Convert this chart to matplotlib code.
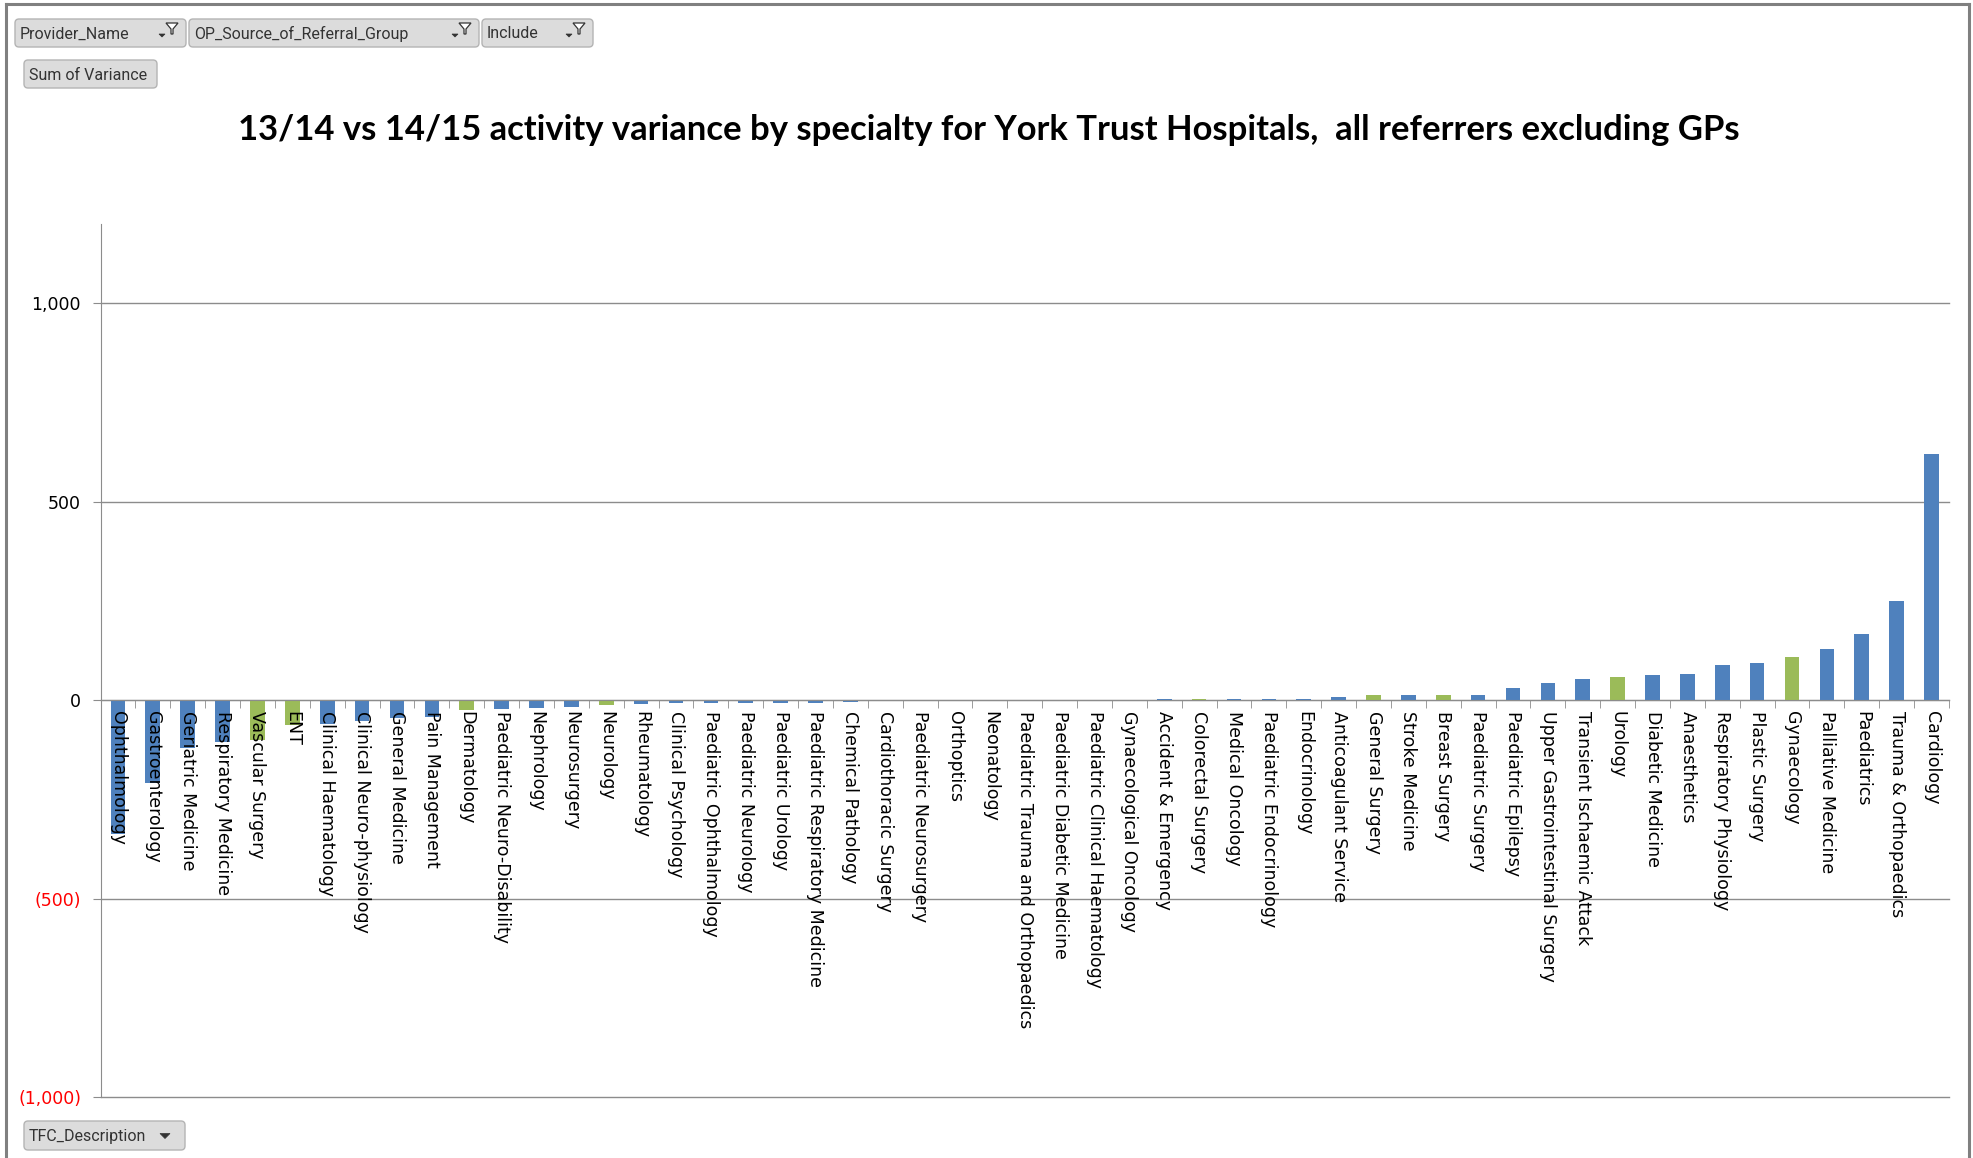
import matplotlib
matplotlib.use("Agg")
import matplotlib.pyplot as plt
from matplotlib.patches import FancyBboxPatch, Polygon
from matplotlib.ticker import FuncFormatter, FixedLocator

# ---------------- data ----------------
categories = [
    "Ophthalmology", "Gastroenterology", "Geriatric Medicine", "Respiratory Medicine",
    "Vascular Surgery", "ENT", "Clinical Haematology", "Clinical Neuro-physiology",
    "General Medicine", "Pain Management", "Dermatology", "Paediatric Neuro-Disability",
    "Nephrology", "Neurosurgery", "Neurology", "Rheumatology", "Clinical Psychology",
    "Paediatric Ophthalmology", "Paediatric Neurology", "Paediatric Urology",
    "Paediatric Respiratory Medicine", "Chemical Pathology", "Cardiothoracic Surgery",
    "Paediatric Neurosurgery", "Orthoptics", "Neonatology",
    "Paediatric Trauma and Orthopaedics", "Paediatric Diabetic Medicine",
    "Paediatric Clinical Haematology", "Gynaecological Oncology", "Accident & Emergency",
    "Colorectal Surgery", "Medical Oncology", "Paediatric Endocrinology", "Endocrinology",
    "Anticoagulant Service", "General Surgery", "Stroke Medicine", "Breast Surgery",
    "Paediatric Surgery", "Paediatric Epilepsy", "Upper Gastrointestinal Surgery",
    "Transient Ischaemic Attack", "Urology", "Diabetic Medicine", "Anaesthetics",
    "Respiratory Physiology", "Plastic Surgery", "Gynaecology", "Palliative Medicine",
    "Paediatrics", "Trauma & Orthopaedics", "Cardiology",
]
variance = [
    -338, -209, -120, -105, -101, -62, -60, -52, -44, -43,
    -24, -22, -19, -17, -12, -9, -8, -8, -8, -8,
    -6, -5, -1, 0, 0, 0, 0, 0, 0, 0,
    3, 3, 3, 3, 3, 9, 12, 12, 14, 14,
    31, 44, 54, 59, 64, 67, 88, 93, 110, 130,
    167, 251, 620,
]
green_group = ["Vascular Surgery", "ENT", "Dermatology", "Neurology", "Colorectal Surgery",
               "General Surgery", "Breast Surgery", "Urology", "Gynaecology"]
y_ticks = [-1000, -500, 0, 500, 1000]
title_text = "13/14 vs 14/15 activity variance by specialty for York Trust Hospitals,  all referrers excluding GPs"
filter_buttons = ["Provider_Name", "OP_Source_of_Referral_Group", "Include"]
value_button = "Sum of Variance"
axis_button = "TFC_Description"

# ---------------- figure ----------------
W, H = 1973, 1158
fig = plt.figure(figsize=(W / 100, H / 100), dpi=100)
fig.patch.set_facecolor("white")

BLUE = "#4F81BD"
GREEN = "#9BBB59"
GRID = "#8C8C8C"

ax = fig.add_axes([100.5 / W, 1 - 1097 / H, (1949 - 100.5) / W, (1097 - 224) / H])
x = list(range(len(categories)))
colors = [GREEN if c in green_group else BLUE for c in categories]
ax.bar(x, variance, width=0.42, color=colors, zorder=1)

ax.set_xlim(-0.5, len(categories) - 0.5)
ax.set_ylim(-1000, 1200)

for s in ["top", "right"]:
    ax.spines[s].set_visible(False)
ax.spines["bottom"].set_position(("data", 0))
ax.spines["bottom"].set_color(GRID)
ax.spines["left"].set_color(GRID)
ax.spines["bottom"].set_zorder(3)

ax.yaxis.set_major_locator(FixedLocator(y_ticks))
ax.yaxis.grid(True, color=GRID, linewidth=1.0)
for gl in ax.get_ygridlines():
    gl.set_clip_on(False)
ax.set_axisbelow(True)
ax.xaxis.set_zorder(4)

def fmt(v, pos):
    v = int(round(v))
    if v < 0:
        return "({:,})".format(-v)
    return "{:,}".format(v)

ax.yaxis.set_major_formatter(FuncFormatter(fmt))
ax.tick_params(axis="y", direction="out", length=6, color=GRID, labelsize=12.5, pad=8)
for lab, v in zip(ax.get_yticklabels(), y_ticks):
    lab.set_color("#FF0000" if v < 0 else "black")

ax.set_xticks(x)
ax.set_xticklabels(categories, rotation=270, fontsize=12.5, va="top", ha="center")
ax.tick_params(axis="x", which="major", length=0, pad=8)
ax.set_xticks([i - 0.5 for i in range(len(categories) + 1)], minor=True)
ax.tick_params(axis="x", which="minor", direction="out", length=6, color=GRID)

# ---------------- overlay (title, buttons, frame) ----------------
ov = fig.add_axes([0, 0, 1, 1], zorder=-1)
ov.set_xlim(0, W)
ov.set_ylim(H, 0)
ov.axis("off")

# frame
ov.plot([6, 6], [4, H], color="#808080", lw=2.2)
ov.plot([6, 1969], [4, 4], color="#808080", lw=2.2)
ov.plot([1969, 1969], [4, H], color="#808080", lw=2.2)

# title
t = fig.text(989 / W, 1 - 130 / H, title_text, fontsize=26, fontweight="bold",
             family="Lato", ha="center", va="center", color="black")
fig.canvas.draw()
bb = t.get_window_extent()
t.set_fontsize(26 * 1505 / bb.width)


def button(x0, y0, x1, y1, label, funnel=False, arrow=False):
    p = FancyBboxPatch((x0, y0), x1 - x0, y1 - y0,
                       boxstyle="round,pad=0,rounding_size=4",
                       fc="#DCDCDC", ec="#B4B4B4", lw=1.0)
    ov.add_patch(p)
    ov.text(x0 + 5, (y0 + y1) / 2 + 1, label, fontsize=11.5, family="Roboto",
            color="#333333", ha="left", va="center")
    if funnel:
        fx = x1 - 14
        fy = y0 + 4
        ov.add_patch(Polygon([[fx - 6, fy], [fx + 6, fy], [fx + 1, fy + 6],
                              [fx + 1, fy + 11], [fx - 1, fy + 11], [fx - 1, fy + 6]],
                             closed=True, fc="white", ec="#333333", lw=0.9))
        ax_ = x1 - 24
        ay = y0 + 15
        ov.add_patch(Polygon([[ax_ - 3, ay], [ax_ + 3, ay], [ax_, ay + 3]],
                             closed=True, fc="#333333", ec="#333333", lw=0.5))
    if arrow:
        ax_ = x1 - 20
        ay = (y0 + y1) / 2 - 2
        ov.add_patch(Polygon([[ax_ - 5, ay], [ax_ + 5, ay], [ax_, ay + 5]],
                             closed=True, fc="#333333", ec="#333333", lw=0.5))


button(15, 19, 186, 47, filter_buttons[0], funnel=True)
button(189, 19, 479, 47, filter_buttons[1], funnel=True)
button(482, 19, 593, 47, filter_buttons[2], funnel=True)
button(24, 60, 157, 88, value_button)
button(24, 1121, 185, 1150, axis_button, arrow=True)

fig.savefig("out.png", dpi=100, facecolor="white")
